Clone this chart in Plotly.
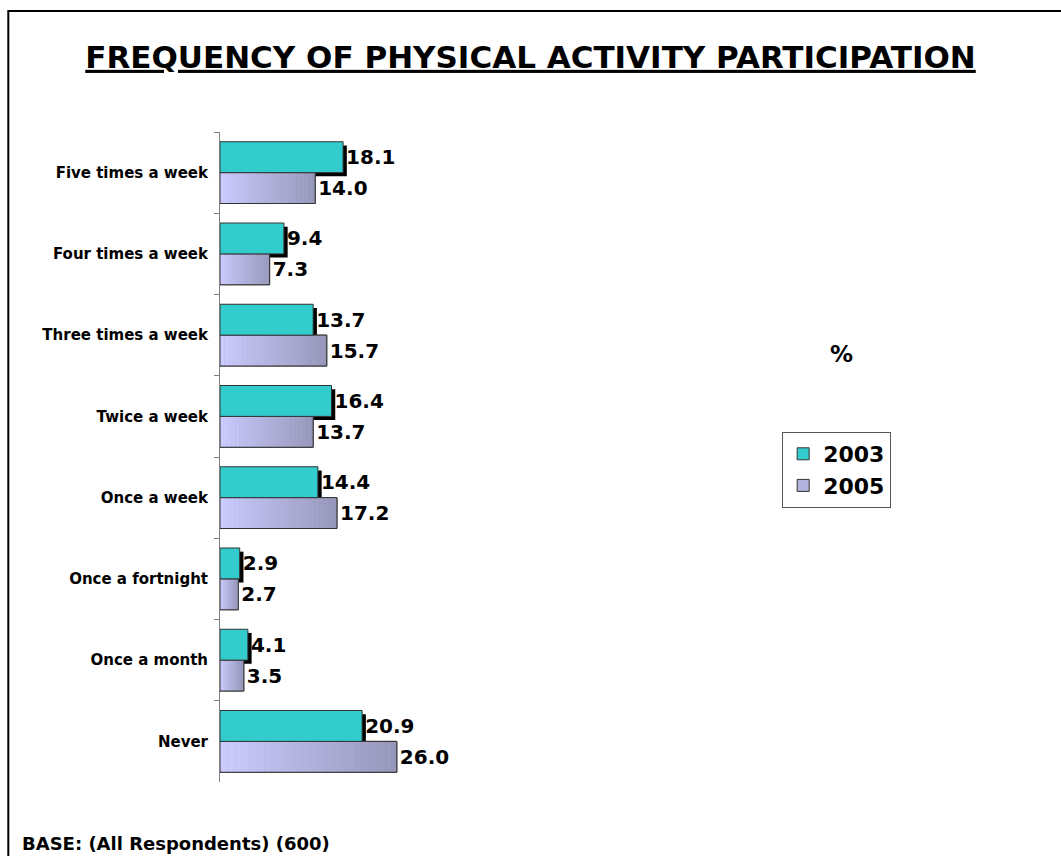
import plotly.graph_objects as go

# ---- data ----
categories = ["Five times a week", "Four times a week", "Three times a week", "Twice a week",
              "Once a week", "Once a fortnight", "Once a month", "Never"]
values_2003 = [18.1, 9.4, 13.7, 16.4, 14.4, 2.9, 4.1, 20.9]
values_2005 = [14.0, 7.3, 15.7, 13.7, 17.2, 2.7, 3.5, 26.0]
series_names = ["2003", "2005"]

# ---- layout constants ----
W, H = 1061, 856
L, T, B = 220, 132, 74
XMAX = 40
PX_PER_UNIT = 6.81
PW = XMAX * PX_PER_UNIT
R = W - L - PW
PH = H - T - B
FONT = "Verdana, DejaVu Sans, sans-serif"

def px2x(px):
    return (px - L) / PW

def px2y(py):
    return (H - B - py) / PH

BAR_W = 0.38
TEAL = "#33CCCC"
EDGE = "#333333"
N_SEG = 24
C0 = (204, 204, 255)
C1 = (150, 150, 186)

fig = go.Figure()

# shadow for 2003 bars
fig.add_trace(go.Bar(
    y=categories, x=[v + 0.55 for v in values_2003], orientation="h",
    offset=-BAR_W + 0.045, width=BAR_W, marker=dict(color="black", line=dict(width=0)),
    showlegend=False, hoverinfo="skip"))

# 2005 base fill (legend entry)
fig.add_trace(go.Bar(
    y=categories, x=values_2005, orientation="h", name=series_names[1],
    offset=0, width=BAR_W, marker=dict(color="#B3B3DD", line=dict(color=EDGE, width=1)),
    legendrank=2))

# 2005 gradient segments
for k in range(N_SEG):
    t = (k + 0.5) / N_SEG
    col = "rgb(%d,%d,%d)" % tuple(round(a + (b - a) * t) for a, b in zip(C0, C1))
    fig.add_trace(go.Bar(
        y=categories, x=[v / N_SEG for v in values_2005],
        base=[v * k / N_SEG for v in values_2005], orientation="h",
        offset=0, width=BAR_W, marker=dict(color=col, line=dict(width=0)),
        showlegend=False, hoverinfo="skip"))

# 2005 outline + labels
fig.add_trace(go.Bar(
    y=categories, x=values_2005, orientation="h",
    offset=0, width=BAR_W, marker=dict(color="rgba(0,0,0,0)", line=dict(color=EDGE, width=1)),
    text=["%.1f" % v for v in values_2005], textposition="outside",
    textfont=dict(family=FONT, size=20, color="black", weight="bold"),
    cliponaxis=False, showlegend=False))

# 2003 bars
fig.add_trace(go.Bar(
    y=categories, x=values_2003, orientation="h", name=series_names[0],
    offset=-BAR_W, width=BAR_W, marker=dict(color=TEAL, line=dict(color=EDGE, width=1)),
    text=["%.1f" % v for v in values_2003], textposition="outside",
    textfont=dict(family=FONT, size=20, color="black", weight="bold"),
    cliponaxis=False, legendrank=1))

fig.update_layout(
    width=W, height=H,
    margin=dict(l=L, r=R, t=T, b=B, pad=0),
    paper_bgcolor="white", plot_bgcolor="white",
    barmode="overlay",
    font=dict(family=FONT, color="black"),
    title=dict(text="FREQUENCY OF PHYSICAL ACTIVITY PARTICIPATION",
               font=dict(family=FONT, size=31, color="black", weight="bold", lineposition="under"),
               x=0.5, xref="container", xanchor="center",
               y=1 - 57 / H, yref="container", yanchor="middle"),
    xaxis=dict(range=[0, XMAX], visible=False, showgrid=False, zeroline=False),
    yaxis=dict(autorange="reversed", showline=True, linecolor="#808080", linewidth=1,
               ticks="outside", ticklen=5, tickcolor="#808080", tickson="boundaries",
               ticklabelstandoff=8, showgrid=False,
               tickfont=dict(family=FONT, size=15, color="black", weight="bold")),
    legend=dict(x=px2x(783), y=px2y(432), xanchor="left", yanchor="top",
                bordercolor="#555555", borderwidth=1, bgcolor="white",
                font=dict(family=FONT, size=22, color="black", weight="bold"),
                traceorder="normal", itemwidth=30),
    shapes=[dict(type="rect", xref="paper", yref="paper",
                 x0=px2x(8), x1=px2x(1075), y0=px2y(870), y1=px2y(11),
                 line=dict(color="black", width=2), fillcolor="rgba(0,0,0,0)", layer="above")],
    annotations=[
        dict(text="%", xref="paper", yref="paper", x=px2x(842), y=px2y(354),
             xanchor="center", yanchor="middle", showarrow=False,
             font=dict(family=FONT, size=23, color="black", weight="bold")),
        dict(text="BASE: (All Respondents) (600)", xref="paper", yref="paper",
             x=px2x(20), y=px2y(843), xanchor="left", yanchor="middle", showarrow=False,
             font=dict(family=FONT, size=18, color="black", weight="bold")),
    ],
)

fig.write_html("out.html", config={"displayModeBar": False},
               post_script="document.body.style.margin='0px';")
